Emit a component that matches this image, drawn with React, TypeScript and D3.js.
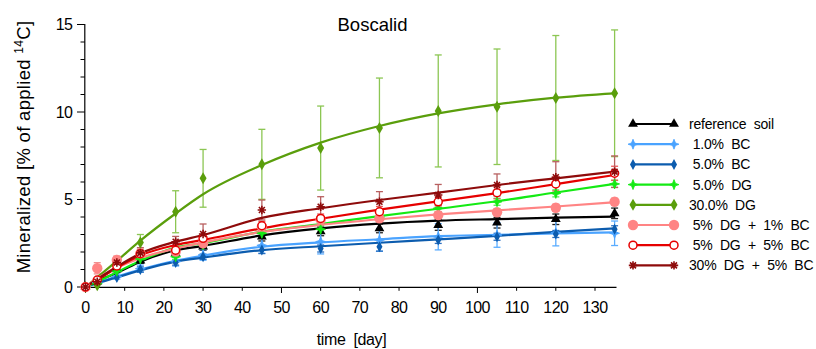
import React from "react";
import * as d3 from "d3";

const days = [0, 3, 8, 14, 23, 30, 45, 60, 75, 90, 105, 120, 135];
const xTicks = [0, 10, 20, 30, 40, 50, 60, 70, 80, 90, 100, 110, 120, 130];
const yTicks = [0, 5, 10, 15];

// measured points
const refPts = [0, 0.3, 1.0, 1.5, 1.95, 2.3, 2.88, 3.18, 3.35, 3.54, 3.67, 3.87, 4.21];
const bc1Pts = [0, 0.25, 0.6, 1.05, 1.45, 1.83, 2.38, 2.59, 2.69, 2.87, 2.97, 3.1, 3.07];
const bc5Pts = [0, 0.15, 0.55, 1.0, 1.4, 1.73, 2.11, 2.2, 2.3, 2.69, 2.87, 3.03, 3.3];
const dg5Pts = [0, 0.2, 0.9, 1.6, 1.73, 2.4, 3.07, 3.3, 4.0, 4.5, 4.87, 5.35, 5.89];
const dg30Pts = [0, 0.1, 1.5, 2.55, 4.3, 6.21, 7.01, 7.94, 9.09, 10.06, 10.3, 10.8, 11.07];
const mix1Pts = [0, 1.07, 1.54, 1.92, 2.02, 2.5, 3.45, 3.85, 3.92, 4.11, 4.27, 4.53, 4.87];
const mix5Pts = [0, 0.4, 1.2, 1.9, 2.1, 2.78, 3.5, 3.92, 4.3, 4.87, 5.39, 5.89, 6.5];
const mix30Pts = [0, 0.3, 1.4, 1.95, 2.59, 3.03, 4.4, 4.59, 4.87, 5.26, 5.83, 6.27, 6.59];

// fitted curves read at the same days
const refFit = [0, 0.35, 0.8, 1.45, 2.1, 2.35, 2.95, 3.35, 3.62, 3.79, 3.88, 3.96, 4.02];
const bc1Fit = [0, 0.25, 0.6, 1.0, 1.5, 1.79, 2.3, 2.55, 2.73, 2.91, 2.98, 3.06, 3.12];
const bc5Fit = [0, 0.22, 0.55, 0.95, 1.45, 1.68, 2.11, 2.33, 2.53, 2.72, 2.92, 3.15, 3.35];
const dg5Fit = [0, 0.3, 0.85, 1.5, 2.25, 2.5, 3.16, 3.6, 4.05, 4.47, 4.9, 5.4, 5.89];
const dg30Fit = [0, 0.55, 1.49, 2.65, 4.2, 5.3, 6.97, 8.25, 9.2, 9.92, 10.44, 10.82, 11.07];
const mix1Fit = [0, 0.5, 1.1, 1.65, 2.2, 2.55, 3.15, 3.55, 3.87, 4.15, 4.38, 4.6, 4.85];
const mix5Fit = [0, 0.4, 1.1, 1.8, 2.4, 2.69, 3.35, 3.9, 4.42, 4.9, 5.36, 5.88, 6.4];
const mix30Fit = [0, 0.45, 1.16, 1.92, 2.59, 2.97, 3.95, 4.5, 4.97, 5.39, 5.83, 6.21, 6.59];

// standard deviations
const refSd = [0, 0.05, 0.1, 0.15, 0.2, 0.2, 0.25, 0.25, 0.25, 0.3, 0.3, 0.3, 0.3];
const bc1Sd = [0, 0.1, 0.15, 0.2, 0.25, 0.3, 0.45, 0.7, 0.65, 0.75, 0.7, 0.75, 0.7];
const bc5Sd = [0, 0.05, 0.1, 0.15, 0.15, 0.15, 0.2, 0.2, 0.25, 0.2, 0.2, 0.2, 0.2];
const dg5Sd = [0, 0.05, 0.1, 0.15, 0.15, 0.15, 0.2, 0.2, 0.2, 0.2, 0.2, 0.2, 0.2];
const dg30Sd = [0, 0.1, 0.2, 0.45, 1.2, 1.65, 2.0, 2.4, 2.85, 3.2, 3.3, 3.57, 3.62];
const mix1Sd = [0, 0.32, 0.23, 0.25, 0.2, 0.2, 0.2, 0.2, 0.2, 0.2, 0.2, 0.2, 0.2];
const mix5Sd = [0, 0.1, 0.15, 0.2, 0.2, 0.2, 0.25, 0.25, 0.3, 0.3, 0.35, 0.4, 0.4];
const mix30Sd = [0, 0.1, 0.2, 0.3, 0.3, 0.57, 0.57, 0.57, 0.58, 0.6, 0.63, 0.89, 0.9];

const labels = [
  "reference  soil",
  " 1.0%  BC",
  " 5.0%  BC",
  " 5.0%  DG",
  "30.0%  DG",
  " 5%  DG  +  1%  BC",
  " 5%  DG  +  5%  BC",
  "30%  DG  +  5%  BC",
];

type Marker = "tri" | "cross" | "diamond" | "bigdiamond" | "dot" | "ring" | "star";

const series = [
  { label: labels[0], pts: refPts, fit: refFit, sd: refSd, color: "#000000", bar: "#222222", marker: "tri" as Marker },
  { label: labels[1], pts: bc1Pts, fit: bc1Fit, sd: bc1Sd, color: "#4aa3ff", bar: "#5aacff", marker: "cross" as Marker },
  { label: labels[2], pts: bc5Pts, fit: bc5Fit, sd: bc5Sd, color: "#0c5cae", bar: "#2a6fc0", marker: "diamond" as Marker },
  { label: labels[3], pts: dg5Pts, fit: dg5Fit, sd: dg5Sd, color: "#14ea14", bar: "#55ee55", marker: "cross" as Marker },
  { label: labels[4], pts: dg30Pts, fit: dg30Fit, sd: dg30Sd, color: "#5a9e0c", bar: "#8cc653", marker: "bigdiamond" as Marker },
  { label: labels[5], pts: mix1Pts, fit: mix1Fit, sd: mix1Sd, color: "#ff8484", bar: "#f09090", marker: "dot" as Marker },
  { label: labels[6], pts: mix5Pts, fit: mix5Fit, sd: mix5Sd, color: "#e60000", bar: "#ee5555", marker: "ring" as Marker },
  { label: labels[7], pts: mix30Pts, fit: mix30Fit, sd: mix30Sd, color: "#8e0b0b", bar: "#b86060", marker: "star" as Marker },
];

const W = 816;
const H = 349;
const x = d3.scaleLinear().domain([0, 135]).range([85.5, 614.6]);
const y = d3.scaleLinear().domain([0, 15]).range([287, 24.5]);
const font = "'Liberation Sans', Arial, sans-serif";

function MarkerShape({ type, cx, cy, color }: { type: Marker; cx: number; cy: number; color: string }) {
  const t = `translate(${cx},${cy})`;
  switch (type) {
    case "tri":
      return <path transform={t} d={d3.symbol(d3.symbolTriangle, 42)() || ""} fill={color} />;
    case "cross":
      return (
        <path
          transform={t}
          d="M-5,0L-1.5,-1.2L0,-5L1.5,-1.2L5,0L1.5,1.2L0,5L-1.5,1.2Z"
          fill={color}
          stroke={color}
          strokeWidth={0.8}
        />
      );
    case "diamond":
      return <path transform={t} d="M0,-5.5L3,0L0,5.5L-3,0Z" fill={color} />;
    case "bigdiamond":
      return <path transform={t} d="M0,-6L3.5,0L0,6L-3.5,0Z" fill={color} />;
    case "dot":
      return <circle cx={cx} cy={cy} r={5.2} fill={color} />;
    case "ring":
      return <circle cx={cx} cy={cy} r={4} fill="#ffffff" stroke={color} strokeWidth={1.5} />;
    case "star": {
      const r = 4.2;
      const segs = [0, 45, 90, 135].map((a) => {
        const rad = (a * Math.PI) / 180;
        const dx = r * Math.cos(rad);
        const dy = r * Math.sin(rad);
        return `M${-dx},${-dy}L${dx},${dy}`;
      });
      return <path transform={t} d={segs.join("")} stroke={color} strokeWidth={1.6} fill="none" />;
    }
  }
  return null;
}

export default function App() {
  const line = d3
    .line<number>()
    .x((_, i) => x(days[i]))
    .y((v) => y(v))
    .curve(d3.curveMonotoneX);

  const yMinor = d3.range(0, 16, 1);
  const xMajor = [0, 50, 100];
  const legendX0 = 633;
  const legendX1 = 674;
  const legendY0 = 124;
  const legendDy = 20.2;

  return (
    <svg
      width={W}
      height={H}
      style={{ position: "absolute", left: 0, top: 0, background: "#fff" }}
      fontFamily={font}
    >
      <rect width={W} height={H} fill="#fff" />
      {/* axes */}
      <line x1={84.8} x2={84.8} y1={24} y2={287.5} stroke="#000" strokeWidth={1.2} />
      <line x1={84.3} x2={616.5} y1={287.3} y2={287.3} stroke="#000" strokeWidth={1.2} />
      {yMinor.map((v) => (
        <line
          key={"ym" + v}
          x1={v % 5 === 0 ? 77 : 80.5}
          x2={84.8}
          y1={y(v)}
          y2={y(v)}
          stroke="#000"
          strokeWidth={1}
        />
      ))}
      {yTicks.map((v) => (
        <text key={"yt" + v} x={72.5} y={y(v) + 5.5} fontSize={16} textAnchor="end" letterSpacing={-0.5}>
          {v}
        </text>
      ))}
      {xTicks.map((v) => (
        <line
          key={"xm" + v}
          x1={x(v)}
          x2={x(v)}
          y1={287.3}
          y2={xMajor.includes(v) ? 293 : 290.8}
          stroke="#000"
          strokeWidth={1}
        />
      ))}
      {xTicks.map((v) => (
        <text key={"xt" + v} x={x(v)} y={313.3} fontSize={16} textAnchor="middle" letterSpacing={-0.6}>
          {v}
        </text>
      ))}
      <text x={351.5} y={345} fontSize={16} textAnchor="middle" letterSpacing={-0.4} style={{ whiteSpace: "pre" }}>
        {"time  [day]"}
      </text>
      <text
        transform="translate(30,147) rotate(-90)"
        fontSize={18.5}
        textAnchor="middle"
        letterSpacing={0.3}
      >
        Mineralized [% of applied <tspan fontSize={12} dy={-7}>14</tspan>
        <tspan dy={7}>C]</tspan>
      </text>
      <text x={372.5} y={31} fontSize={18.5} textAnchor="middle">
        Boscalid
      </text>

      {/* error bars */}
      {series.map((s, si) => (
        <g key={"eb" + si} stroke={s.bar} strokeWidth={1.3}>
          {s.pts.map((v, i) => {
            if (s.sd[i] <= 0.12) return null;
            const cx = x(days[i]);
            const y1 = y(v - s.sd[i]);
            const y2 = y(v + s.sd[i]);
            return (
              <g key={i}>
                <line x1={cx} x2={cx} y1={y1} y2={y2} />
                <line x1={cx - 3.5} x2={cx + 3.5} y1={y1} y2={y1} />
                <line x1={cx - 3.5} x2={cx + 3.5} y1={y2} y2={y2} />
              </g>
            );
          })}
        </g>
      ))}

      {/* fitted curves */}
      {series.map((s, si) => (
        <path key={"ln" + si} d={line(s.fit) || ""} fill="none" stroke={s.color} strokeWidth={2.2} />
      ))}

      {/* markers */}
      {series.map((s, si) => (
        <g key={"mk" + si}>
          {s.pts.map((v, i) => (
            <MarkerShape key={i} type={s.marker} cx={x(days[i])} cy={y(v)} color={s.color} />
          ))}
        </g>
      ))}

      {/* legend */}
      {series.map((s, si) => {
        const ly = legendY0 + si * legendDy;
        return (
          <g key={"lg" + si}>
            <line x1={legendX0} x2={legendX1} y1={ly} y2={ly} stroke={s.color} strokeWidth={2.2} />
            <MarkerShape type={s.marker} cx={legendX0} cy={ly} color={s.color} />
            <MarkerShape type={s.marker} cx={legendX1} cy={ly} color={s.color} />
            <text x={689} y={ly + 5} fontSize={14} style={{ whiteSpace: "pre" }} letterSpacing={-0.2}>
              {s.label}
            </text>
          </g>
        );
      })}
    </svg>
  );
}
